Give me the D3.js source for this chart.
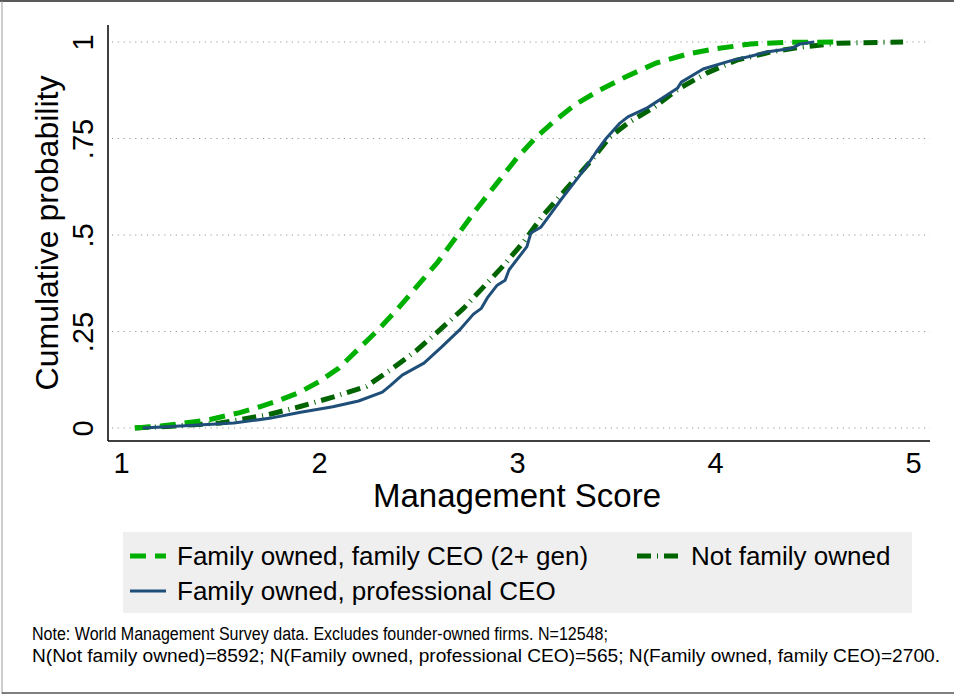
<!DOCTYPE html>
<html>
<head>
<meta charset="utf-8">
<script src="https://cdn.jsdelivr.net/npm/d3@7"></script>
<style>
  body { margin: 0; background: #fff; }
  svg { display: block; font-family: "Liberation Sans", Arial, Helvetica, sans-serif; }
</style>
</head>
<body>
<svg id="chart" width="954" height="694"></svg>
<script>
// CDF points: [management score, cumulative probability]
const familyCeo = [
  [1.07, 0], [1.2, 0.005], [1.31, 0.012], [1.45, 0.022], [1.6, 0.04], [1.7, 0.055],
  [1.79, 0.07], [1.9, 0.092], [2.0, 0.12], [2.1, 0.155], [2.2, 0.205], [2.3, 0.255],
  [2.4, 0.31], [2.5, 0.37], [2.6, 0.43], [2.7, 0.5], [2.8, 0.57], [2.9, 0.635],
  [3.0, 0.7], [3.1, 0.755], [3.2, 0.8], [3.3, 0.84], [3.42, 0.876], [3.55, 0.91],
  [3.7, 0.945], [3.87, 0.97], [4.0, 0.982], [4.18, 0.995], [4.35, 0.999], [4.6, 1]
];
const notFamily = [
  [1.07, 0], [1.3, 0.006], [1.5, 0.013], [1.74, 0.034], [1.9, 0.055], [2.07, 0.08],
  [2.24, 0.108], [2.36, 0.15], [2.49, 0.2], [2.61, 0.254], [2.73, 0.31], [2.83, 0.365],
  [2.93, 0.42], [3.03, 0.48], [3.13, 0.55], [3.25, 0.62], [3.37, 0.69], [3.47, 0.754],
  [3.56, 0.79], [3.69, 0.83], [3.82, 0.88], [3.96, 0.92], [4.11, 0.953], [4.28, 0.974],
  [4.44, 0.987], [4.62, 0.997], [4.95, 1]
];
const professionalCeo = [
  [1.11, 0], [1.3, 0.005], [1.57, 0.013], [1.75, 0.025], [1.9, 0.04], [2.07, 0.055],
  [2.2, 0.07], [2.32, 0.093], [2.36, 0.11], [2.42, 0.137], [2.53, 0.168], [2.62, 0.21],
  [2.71, 0.254], [2.78, 0.295], [2.82, 0.31], [2.85, 0.337], [2.9, 0.37], [2.94, 0.383],
  [2.96, 0.41], [3.02, 0.45], [3.05, 0.47], [3.07, 0.505], [3.12, 0.52], [3.17, 0.555],
  [3.22, 0.59], [3.28, 0.63], [3.34, 0.67], [3.4, 0.715], [3.45, 0.75], [3.52, 0.79],
  [3.56, 0.806], [3.66, 0.83], [3.75, 0.86], [3.81, 0.88], [3.83, 0.896], [3.94, 0.93],
  [4.09, 0.953], [4.18, 0.963], [4.26, 0.974], [4.39, 0.984], [4.43, 0.995], [4.5, 1]
];

const xTicks = [1, 2, 3, 4, 5];
const yTicks = [0, 0.25, 0.5, 0.75, 1];
const yTickLabels = ["0", ".25", ".5", ".75", "1"];
const noteLines = [
  "Note: World Management Survey data. Excludes founder-owned firms. N=12548;",
  "N(Not family owned)=8592; N(Family owned, professional CEO)=565; N(Family owned, family CEO)=2700."
];

// series styles, drawn in this order
const series = [
  { name: "Not family owned", data: notFamily, color: "#006400", width: 5, dash: "14,6,1,6" },
  { name: "Family owned, family CEO (2+ gen)", data: familyCeo, color: "#00b000", width: 5, dash: "16,9" },
  { name: "Family owned, professional CEO", data: professionalCeo, color: "#1f4e79", width: 3, dash: null }
];

const svg = d3.select("#chart");

// outer frame
svg.append("line").attr("x1", 0).attr("x2", 954).attr("y1", 1).attr("y2", 1)
  .attr("stroke", "#222").attr("stroke-width", 1.5);
svg.append("line").attr("x1", 2).attr("x2", 2).attr("y1", 1).attr("y2", 694)
  .attr("stroke", "#999").attr("stroke-width", 1);
svg.append("line").attr("x1", 2).attr("x2", 954).attr("y1", 693).attr("y2", 693)
  .attr("stroke", "#555").attr("stroke-width", 1.5);

const x = d3.scaleLinear().domain([1, 5]).range([121, 913]);
const y = d3.scaleLinear().domain([0, 1]).range([428, 42]);
const axisX = 108, axisY = 441, plotRight = 930, plotTop = 25;

// dotted gridlines
svg.append("g").selectAll("line").data(yTicks).join("line")
  .attr("x1", axisX + 4).attr("x2", plotRight)
  .attr("y1", d => y(d)).attr("y2", d => y(d))
  .attr("stroke", "#999").attr("stroke-width", 1.2).attr("stroke-dasharray", "1.2,4.6");

// y axis
const gy = svg.append("g").attr("transform", `translate(${axisX},0)`)
  .call(d3.axisLeft(y).tickValues(yTicks).tickSize(0).tickFormat((d, i) => yTickLabels[i]));
gy.select(".domain").remove();
gy.selectAll("text")
  .attr("x", 0).attr("dy", 0)
  .attr("transform", "translate(-15,0) rotate(-90)")
  .attr("text-anchor", "middle")
  .attr("fill", "#000")
  .style("font-size", "29px").style("font-family", "inherit");

// x axis
const gx = svg.append("g").attr("transform", `translate(0,${axisY})`)
  .call(d3.axisBottom(x).tickValues(xTicks).tickSize(0).tickFormat(d3.format("d")));
gx.select(".domain").remove();
gx.selectAll("text")
  .attr("y", 32).attr("dy", 0)
  .attr("fill", "#000")
  .style("font-size", "29px").style("font-family", "inherit");

// axis lines
svg.append("line").attr("x1", axisX).attr("x2", axisX).attr("y1", plotTop).attr("y2", axisY)
  .attr("stroke", "#000").attr("stroke-width", 1.5);
svg.append("line").attr("x1", axisX).attr("x2", plotRight).attr("y1", axisY).attr("y2", axisY)
  .attr("stroke", "#000").attr("stroke-width", 1.5);

// axis titles
svg.append("text")
  .attr("transform", `translate(58,${(plotTop + axisY) / 2}) rotate(-90)`)
  .attr("text-anchor", "middle")
  .style("font-size", "32px")
  .text("Cumulative probability");
svg.append("text")
  .attr("x", x(3)).attr("y", 507)
  .attr("text-anchor", "middle")
  .style("font-size", "33px")
  .text("Management Score");

// curves
const line = d3.line().x(d => x(d[0])).y(d => y(d[1])).curve(d3.curveLinear);
svg.append("g").selectAll("path").data(series).join("path")
  .attr("d", d => line(d.data))
  .attr("fill", "none")
  .attr("stroke", d => d.color)
  .attr("stroke-width", d => d.width)
  .attr("stroke-dasharray", d => d.dash)
  .attr("stroke-linejoin", "round");

// legend
const legend = svg.append("g");
legend.append("rect").attr("x", 123).attr("y", 532).attr("width", 789).attr("height", 81)
  .attr("fill", "#efefef");
const legendItems = [
  { s: series[1], x: 130, len: 36, tx: 177, y: 556 },
  { s: series[0], x: 637, len: 44, tx: 691, y: 556 },
  { s: series[2], x: 130, len: 36, tx: 177, y: 591 }
];
legendItems.forEach(item => {
  legend.append("line")
    .attr("x1", item.x).attr("x2", item.x + item.len)
    .attr("y1", item.y).attr("y2", item.y)
    .attr("stroke", item.s.color)
    .attr("stroke-width", item.s.width)
    .attr("stroke-dasharray", item.s.dash);
  legend.append("text")
    .attr("x", item.tx).attr("y", item.y + 9)
    .style("font-size", "26px")
    .text(item.s.name);
});

// note
svg.append("g").selectAll("text").data(noteLines).join("text")
  .attr("x", 32).attr("y", (d, i) => 640 + i * 22)
  .attr("textLength", (d, i) => i === 0 ? 576 : 908)
  .attr("lengthAdjust", "spacingAndGlyphs")
  .style("font-size", "18px")
  .text(d => d);
</script>
</body>
</html>
